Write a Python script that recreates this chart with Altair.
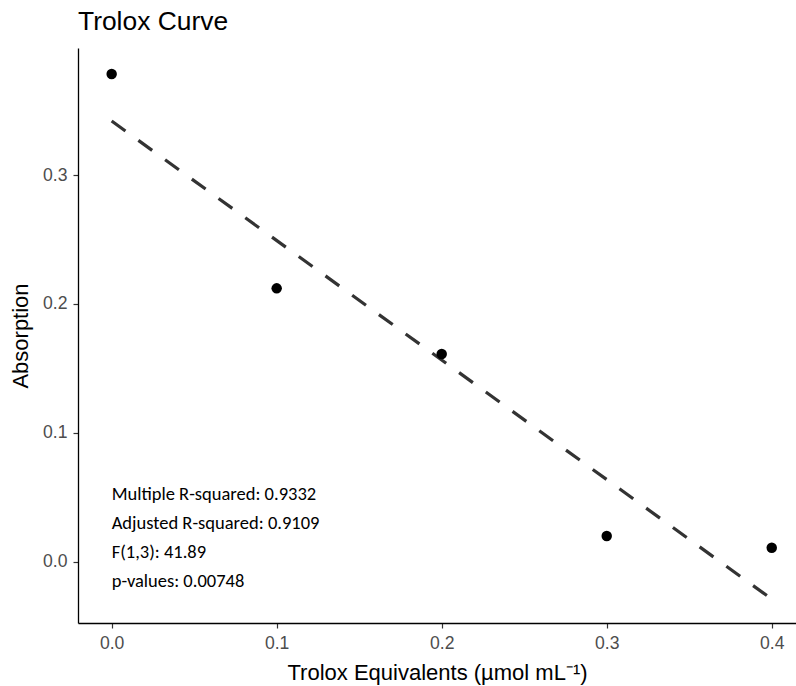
import altair as alt
import pandas as pd

# Trolox standard curve: concentration vs. measured absorption
trolox = [0.0, 0.1, 0.2, 0.3, 0.4]
absorption = [0.3785, 0.2121, 0.1611, 0.0198, 0.0107]

x_ticks = [0.0, 0.1, 0.2, 0.3, 0.4]
y_ticks = [0.0, 0.1, 0.2, 0.3]

fit_stats = [
    "Multiple R-squared: 0.9332",
    "Adjusted R-squared: 0.9109",
    "F(1,3): 41.89",
    "p-values: 0.00748",
]

df = pd.DataFrame({"trolox": trolox, "absorption": absorption})

x_scale = alt.Scale(domain=[-0.0204, 0.4147], nice=False, zero=False)
y_scale = alt.Scale(domain=[-0.0477, 0.3987], nice=False, zero=False)

x_axis = alt.Axis(
    title="Trolox Equivalents (µmol mL⁻¹)",
    values=x_ticks, format=".1f",
)
y_axis = alt.Axis(
    title="Absorption",
    values=y_ticks, format=".1f",
)

base = alt.Chart(df)

points = base.mark_circle(size=110, color="black", opacity=1).encode(
    x=alt.X("trolox:Q", scale=x_scale, axis=x_axis),
    y=alt.Y("absorption:Q", scale=y_scale, axis=y_axis),
)

fit = (
    base.transform_regression("trolox", "absorption", method="linear")
    .mark_line(color="#333333", strokeWidth=3.2, strokeDash=[17, 16])
    .encode(
        x=alt.X("trolox:Q", scale=x_scale),
        y=alt.Y("absorption:Q", scale=y_scale),
    )
)

stats = (
    alt.Chart(pd.DataFrame({"label": ["\n".join(fit_stats)]}))
    .mark_text(
        align="left", baseline="alphabetic", lineBreak="\n", lineHeight=29,
        font="Carlito, 'Liberation Sans Narrow', 'Open Sans', sans-serif",
        fontSize=18.5, color="black",
    )
    .encode(
        x=alt.datum(0.0, scale=x_scale),
        y=alt.datum(0.0477, scale=y_scale),
        text="label:N",
    )
)

chart = (
    alt.layer(fit, points, stats)
    .properties(
        width=718, height=575,
        title=alt.TitleParams("Trolox Curve", anchor="start", frame="group", offset=13),
        autosize=alt.AutoSizeParams(type="none"),
        padding={"left": 78, "top": 48, "right": 0, "bottom": 63},
    )
    .configure_view(stroke=None)
    .configure_axis(
        grid=False,
        domainColor="black", domainWidth=1.3,
        tickColor="#333333", tickWidth=1.2, tickSize=5,
        labelFont="Liberation Sans", labelFontSize=17.6, labelColor="#4d4d4d",
        labelPadding=6,
        titleFont="Liberation Sans", titleFontSize=22, titleColor="black",
        titleFontWeight="normal",
    )
    .configure_axisX(titlePadding=11)
    .configure_axisY(titlePadding=10)
    .configure_title(
        font="Liberation Sans", fontSize=26.4, fontWeight="normal",
        color="black", baseline="bottom",
    )
)

chart.save("out.html", embed_options={"renderer": "svg", "actions": False})
